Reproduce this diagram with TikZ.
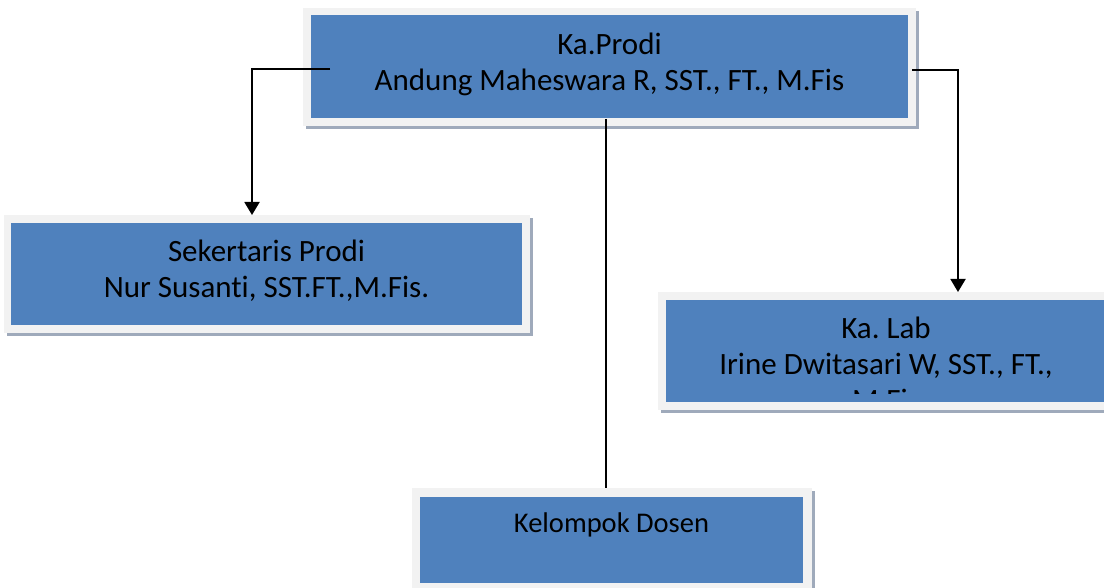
\documentclass[tikz,border=0pt]{standalone}
\usepackage{fontspec}
\setmainfont{Carlito}[Ligatures={NoCommon}]
\usetikzlibrary{arrows.meta,calc}
\definecolor{boxblue}{HTML}{4F81BD}
\definecolor{framegray}{HTML}{F2F2F2}
\definecolor{shadowc}{HTML}{9FAABB}
\tikzset{
  frame/.style={fill=none, draw=none, inner sep=0pt, outer sep=0pt},
  bluebox/.style={fill=boxblue, draw=none, inner sep=0pt, outer sep=0pt, align=center, text=black},
  link/.style={line width=1.9pt, black},
  arr/.style={link, -{Triangle[length=13pt,width=15pt]}},
  bigtxt/.style={font=\frenchspacing\fontsize{31}{36}\selectfont},
  smalltxt/.style={font=\frenchspacing\fontsize{28.5}{33}\selectfont}
}
\newcommand{\framebg}[4]{% x1, y1, x2, y2 (frame)
  \fill[shadowc] (#1+3,#2+3) rectangle (#3+3,#4+3);
  \fill[framegray] (#1,#2) rectangle (#3,#4);
}
\begin{document}
\begin{tikzpicture}[x=1pt,y=-1pt]
\useasboundingbox (0,0) rectangle (1104,588);
% ---------- Ka.Prodi ----------
\framebg{303}{8}{916}{126}
\node[frame, minimum width=613pt, minimum height=118pt] (f1) at (609.5,67) {};
\node[bluebox, minimum width=597pt, minimum height=103pt] (b1) at (609.5,66.5) {};
\node[bigtxt, align=center, inner sep=0pt] (t1) at (609.5,64) {Ka.Prodi\\Andung Maheswara R, SST., FT., M.Fis};
% ---------- Sekertaris ----------
\framebg{4}{215}{530}{333}
\node[frame, minimum width=526pt, minimum height=118pt] (f2) at (267,274) {};
\node[bluebox, minimum width=511pt, minimum height=102pt] (b2) at (266.5,274) {};
\node[bigtxt, align=center, inner sep=0pt] (t2) at (266.5,270.5) {Sekertaris Prodi\\Nur Susanti, SST.FT.,M.Fis.};
% ---------- Ka. Lab ----------
\fill[shadowc] (661,295) rectangle (1107,413);
\fill[framegray] (658,292) rectangle (1110,410);
\node[frame, minimum width=446pt, minimum height=118pt] (f3) at (881,351) {};
\node[bluebox, minimum width=440pt, minimum height=102pt] (b3) at (886,351) {};
\begin{scope}
  \clip (b3.north west) rectangle (1104,393);
  \node[bigtxt, align=center, inner sep=0pt] (t3) at (886,364) {Ka. Lab\\Irine Dwitasari W, SST., FT.,\\M.Fis};
\end{scope}
% ---------- Kelompok Dosen ----------
\fill[shadowc] (415,491) rectangle (815,591);
\fill[framegray] (412,488) rectangle (812,592);
\node[frame, minimum width=400pt, minimum height=100pt] (f4) at (612,538) {};
\node[bluebox, minimum width=383pt, minimum height=86pt] (b4) at (611.5,540) {};
\node[smalltxt, inner sep=0pt] (t4) at (611.5,525) {Kelompok Dosen};
% ---------- connectors ----------
\coordinate (c1) at (330,69);
\coordinate (k1) at (252,0);
\draw[arr] (c1) -| (f2.north -| k1);
\coordinate (c2) at (912,70);
\coordinate (k2) at (958,0);
\draw[arr] (c2) -| (f3.north -| k2);
\coordinate (c3) at (606,119);
\draw[link] (c3) -- (f4.north -| c3);
\end{tikzpicture}
\end{document}
